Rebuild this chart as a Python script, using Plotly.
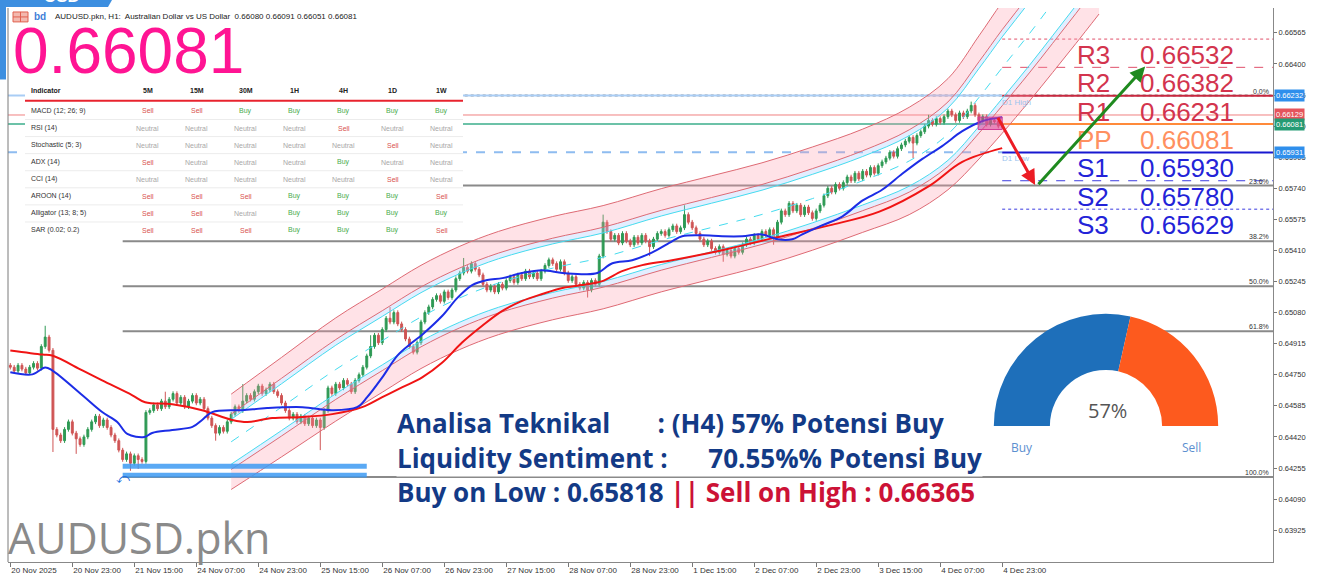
import plotly.graph_objects as go

# ---------------- data ----------------
tick_labels = ["20 Nov 2025", "20 Nov 23:00", "21 Nov 15:00", "24 Nov 07:00", "24 Nov 23:00",
               "25 Nov 15:00", "26 Nov 07:00", "26 Nov 23:00", "27 Nov 15:00", "28 Nov 07:00",
               "28 Nov 23:00", "1 Dec 15:00", "2 Dec 07:00", "2 Dec 23:00", "3 Dec 15:00",
               "4 Dec 07:00", "4 Dec 23:00"]
tick_bars = [0, 16, 32, 48, 64, 80, 96, 112, 128, 144, 160, 176, 192, 208, 224, 240, 256]

y_ticks = [0.66565, 0.66400, 0.66235, 0.66070, 0.65905, 0.65740, 0.65575, 0.65410, 0.65245,
           0.65080, 0.64915, 0.64750, 0.64585, 0.64420, 0.64255, 0.64090, 0.63925]

# H1 closes in points (0.xxxxx * 1e5)
first_open = 64800
close_pts = [
    64790, 64770, 64800, 64780, 64760, 64790, 64810, 64785,
    64900, 64950, 64880, 64460,
    64430, 64400, 64460, 64500, 64440, 64410, 64380, 64420, 64460, 64500, 64530, 64480, 64510, 64470,
    64430, 64400, 64350, 64300, 64330, 64280, 64320, 64300, 64290,
    64550,
    64560, 64590, 64570, 64610, 64580, 64620, 64650, 64600, 64630, 64580, 64610, 64640, 64600, 64620, 64570,
    64520, 64480, 64440, 64470, 64450, 64500,
    64540, 64580, 64560, 64610, 64640, 64620, 64660, 64690, 64650, 64670, 64700, 64660, 64640, 64600,
    64560, 64520, 64540, 64500, 64530, 64490, 64520, 64480, 64510, 64470,
    64560, 64680, 64650, 64700, 64680, 64720,
    64700, 64660, 64720, 64750, 64790,
    64850, 64900, 64960, 64920,
    64990, 65050, 65030, 65080, 65020, 64990,
    64940, 64900, 64870, 64920,
    65030, 65080, 65110,
    65150, 65170, 65140, 65190, 65160, 65200,
    65260, 65290, 65320, 65300, 65340, 65310, 65280,
    65230, 65200, 65220, 65190, 65230, 65210,
    65250, 65270, 65240, 65280, 65260, 65300, 65270, 65290, 65260, 65300,
    65330, 65360, 65340, 65310, 65350,
    65290, 65250, 65270, 65230,
    65210, 65240, 65200, 65250, 65230,
    65380, 65560,
    65510, 65470, 65490, 65450, 65500, 65460, 65440, 65480, 65450, 65490, 65460, 65430, 65470, 65500,
    65510, 65490, 65520, 65540, 65510, 65530,
    65600, 65560,
    65530, 65500, 65470, 65440, 65460, 65420,
    65400, 65430, 65390, 65410, 65380, 65420, 65400, 65440,
    65470, 65450, 65490, 65470, 65510, 65490, 65520,
    65480, 65560, 65620, 65600, 65660,
    65620, 65650, 65600, 65640, 65610, 65580, 65620, 65650,
    65700, 65740, 65720, 65760, 65740,
    65770, 65800, 65780, 65820, 65790, 65830, 65810, 65850, 65820, 65860, 65880,
    65900, 65930, 65910, 65950, 65970,
    65990, 66010, 65980, 66020, 66040,
    66070, 66100, 66080, 66110, 66090,
    66120, 66150, 66130, 66100, 66140, 66120,
    66150, 66180, 66130,
    66100, 66120, 66080, 66100, 66095, 66070, 66081,
]
# notable wick extremes (points)
high_pts = {9: 65010, 40: 64660, 60: 64700, 93: 64960, 98: 65110, 117: 65370, 153: 65600,
            174: 65650, 237: 66130, 248: 66200}
low_pts = {11: 64340, 17: 64330, 31: 64240, 33: 64250, 53: 64400, 80: 64350, 149: 65160,
           165: 65380, 184: 65350, 197: 65440, 233: 65900}
wick_pts = 12

# moving averages (bar index, points)
blue_bar = [0, 5.7, 9, 10.8, 18.6, 23.7, 27.6, 30.2, 34.6, 36.6, 41.8, 47, 49.5, 52.1, 59.9, 66.3,
            75.4, 83.1, 89.5, 92.1, 96, 99.9, 103.7, 106.3, 111.5, 115.4, 119.2, 123.1, 127, 132,
            137.3, 142.5, 147.6, 151.5, 155.4, 160.5, 165.7, 170.8, 173.4, 178.6, 183.7, 188.9,
            194, 198, 201.8, 204.4, 209.5, 214.7, 219.9, 225, 230.2, 235.4, 240.5, 245.7, 250.8, 256]
blue_pts = [64763, 64752, 64789, 64773, 64641, 64552, 64499, 64436, 64420, 64441, 64457, 64473,
            64510, 64552, 64562, 64573, 64578, 64562, 64578, 64631, 64736, 64852, 64921, 64963,
            65063, 65158, 65226, 65253, 65263, 65290, 65305, 65290, 65284, 65290, 65342, 65358,
            65400, 65458, 65485, 65490, 65485, 65485, 65495, 65469, 65469, 65495, 65543, 65590,
            65674, 65732, 65817, 65896, 65964, 66043, 66096, 66117]
red_bar = [0, 8.3, 10.8, 18.6, 23.7, 31.5, 34.8, 41.8, 49.5, 57.3, 61.2, 67.6, 75.4, 83.1, 90.8,
           96, 101.2, 106.3, 111.5, 116.6, 121.8, 127, 132.1, 137.3, 142.5, 147.6, 152.8, 157.9,
           163.1, 170.8, 183.7, 196.6, 211.4, 224.3, 237.2, 245.7, 256]
red_pts = [64879, 64857, 64852, 64773, 64720, 64641, 64604, 64594, 64562, 64510, 64499, 64520,
           64526, 64541, 64578, 64631, 64684, 64736, 64815, 64921, 65010, 65089, 65142, 65179,
           65211, 65226, 65247, 65300, 65332, 65358, 65411, 65474, 65543, 65616, 65753, 65880,
           65953]

# regression channel: mid line and outer half width (points)
chan_bar = [57, 70, 84, 96, 106, 116, 126, 140, 153, 168, 181, 194, 207, 220, 232, 242, 250,
            256, 263, 269, 275, 281]
chan_mid = [64394, 64578, 64778, 64931, 65057, 65158, 65237, 65316, 65374, 65464, 65532, 65601,
            65685, 65780, 65885, 66027, 66222, 66380, 66560, 66723, 66887, 67055]
chan_hw = [253, 264, 274, 274, 274, 274, 274, 274, 274, 274, 274, 274, 274, 274, 285, 295, 327,
           348, 358, 369, 379, 390]

pivot_names = ["R3", "R2", "R1", "PP", "S1", "S2", "S3"]
pivot_vals = [0.66532, 0.66382, 0.66231, 0.66081, 0.65930, 0.65780, 0.65629]

fib_high, fib_low = 0.66232, 0.64207
fib_levels = [0.0, 23.6, 38.2, 50.0, 61.8, 100.0]

d1_high, d1_low = 0.66232, 0.65931
ask_price, bid_price = 0.66129, 0.66081
axis_marks = [(0.66232, "#2f8fec"), (0.66129, "#e5545c"), (0.66081, "#259b74"), (0.65931, "#2f8fec")]

liq_zones = [(0.64278, 0.64251), (0.64230, 0.64204)]
liq_bars = (29, 92)

arrow_red = ((254.7, 0.66122), (264.5, 0.65758))
arrow_green = ((265.0, 0.65753), (292.9, 0.66386))

buy_pct = 57

indicators = ["MACD (12; 26; 9)", "RSI (14)", "Stochastic (5; 3)", "ADX (14)", "CCI (14)",
              "AROON (14)", "Alligator (13; 8; 5)", "SAR (0.02; 0.2)"]
timeframes = ["5M", "15M", "30M", "1H", "4H", "1D", "1W"]
signals = [
    ["Sell", "Sell", "Buy", "Buy", "Buy", "Buy", "Buy"],
    ["Neutral", "Neutral", "Neutral", "Neutral", "Sell", "Neutral", "Neutral"],
    ["Neutral", "Neutral", "Neutral", "Neutral", "Neutral", "Sell", "Neutral"],
    ["Sell", "Neutral", "Neutral", "Neutral", "Buy", "Neutral", "Neutral"],
    ["Neutral", "Neutral", "Neutral", "Neutral", "Neutral", "Sell", "Neutral"],
    ["Sell", "Sell", "Sell", "Buy", "Buy", "Buy", "Sell"],
    ["Sell", "Sell", "Neutral", "Buy", "Buy", "Buy", "Buy"],
    ["Sell", "Sell", "Sell", "Buy", "Buy", "Buy", "Sell"],
]

# ---------------- layout helpers ----------------
W, H = 1320, 583
X0, X1, Y0, Y1 = 8, 1273, 8, 566
XR = [-0.6, 325.9]
YR = [0.63756, 0.66697]


def px(x):
    return (x - X0) / (X1 - X0)


def py(y):
    return (Y1 - y) / (Y1 - Y0)


FONT = "Liberation Sans"


def note(x, y, text, size, color, family=FONT, xa="center", ya="middle", **kw):
    d = dict(xref="paper", yref="paper", x=px(x), y=py(y), text=text, xanchor=xa, yanchor=ya,
             showarrow=False, font=dict(family=family, size=size, color=color))
    d.update(kw)
    return d


# ---------------- candles ----------------
n = len(close_pts)
bars = list(range(n))
opens = [first_open] + close_pts[:-1]
highs, lows = [], []
for i in range(n):
    o, c = opens[i], close_pts[i]
    hi = max(o, c) + wick_pts
    lo = min(o, c) - wick_pts
    if i in high_pts:
        hi = max(hi, high_pts[i])
    if i in low_pts:
        lo = min(lo, low_pts[i])
    highs.append(hi / 1e5)
    lows.append(lo / 1e5)
o_p = [v / 1e5 for v in opens]
c_p = [v / 1e5 for v in close_pts]

fig = go.Figure()

# ---------------- channel ----------------
def chan_line(k):
    return [(m + k * h) / 1e5 for m, h in zip(chan_mid, chan_hw)]

RED_L = "#de6a74"
CYAN_L = "#45dcef"
PINK_F = "rgba(255,150,170,0.28)"
LAV_F = "rgba(175,205,255,0.35)"
spec = [
    (1.0, RED_L, None, "solid"),
    (0.58, RED_L, PINK_F, "solid"),
    (0.47, CYAN_L, LAV_F, "solid"),
    (0.0, CYAN_L, None, "dash"),
    (-0.47, CYAN_L, None, "solid"),
    (-0.58, RED_L, LAV_F, "solid"),
    (-1.0, RED_L, PINK_F, "solid"),
]
for k, col, fillc, dash in spec:
    fig.add_trace(go.Scatter(
        x=chan_bar, y=chan_line(k), mode="lines",
        line=dict(color=col, width=1, shape="spline", dash=dash),
        fill="tonexty" if fillc else None, fillcolor=fillc,
        hoverinfo="skip", showlegend=False))

fig.add_trace(go.Candlestick(
    x=bars, open=o_p, high=highs, low=lows, close=c_p,
    increasing=dict(line=dict(color="#2f9a55", width=1), fillcolor="#2f9a55"),
    decreasing=dict(line=dict(color="#cf5555", width=1), fillcolor="#cf5555"),
    whiskerwidth=0, showlegend=False, hoverinfo="skip"))

fig.add_trace(go.Scatter(x=red_bar, y=[v / 1e5 for v in red_pts], mode="lines",
                         line=dict(color="#f01414", width=2, shape="spline"),
                         hoverinfo="skip", showlegend=False))
fig.add_trace(go.Scatter(x=blue_bar, y=[v / 1e5 for v in blue_pts], mode="lines",
                         line=dict(color="#1c2de6", width=2, shape="spline"),
                         hoverinfo="skip", showlegend=False))

# ---------------- gauge ----------------
gx0, gx1 = px(993), px(1219)
gy0, gy1 = py(542), py(316)
fig.add_trace(go.Pie(
    values=[buy_pct, 100 - buy_pct, 100], labels=["Buy", "Sell", ""],
    marker=dict(colors=["#1e6fba", "#fd5a1e", "rgba(0,0,0,0)"], line=dict(width=0)),
    hole=0.5, rotation=-90, direction="clockwise", sort=False, textinfo="none",
    hoverinfo="skip", showlegend=False, automargin=False,
    domain=dict(x=[gx0, gx1], y=[gy0, gy1])))

shapes = []
ann = []

# left frame line
shapes.append(dict(type="line", xref="paper", yref="paper", x0=0, x1=0, y0=0, y1=1,
                   line=dict(color="#7a7a7a", width=1)))

# fibonacci lines
for lv in fib_levels:
    yv = fib_high - lv / 100 * (fib_high - fib_low)
    shapes.append(dict(type="line", xref="x", yref="y", x0=29, x1=XR[1], y0=yv, y1=yv,
                       line=dict(color="#8a8a8a", width=2, dash="dot" if lv == 0 else "solid"),
                       layer="below"))
    ann.append(dict(xref="paper", yref="y", x=px(1270), y=yv, text=f"{lv:.1f}%",
                    xanchor="right", yanchor="bottom", showarrow=False, borderpad=0,
                    font=dict(family=FONT, size=7, color="#333")))

# D1 high/low, bid/ask lines across the chart
shapes.append(dict(type="line", xref="x", yref="y", x0=XR[0], x1=256, y0=d1_high, y1=d1_high,
                   line=dict(color="#a9cdf5", width=2), layer="below"))
shapes.append(dict(type="line", xref="x", yref="y", x0=XR[0], x1=256, y0=d1_low, y1=d1_low,
                   line=dict(color="#8ebcf0", width=2, dash="dash"), layer="below"))
shapes.append(dict(type="line", xref="x", yref="y", x0=XR[0], x1=XR[1], y0=ask_price, y1=ask_price,
                   line=dict(color="#f08080", width=1), layer="below"))
shapes.append(dict(type="line", xref="x", yref="y", x0=XR[0], x1=256, y0=bid_price, y1=bid_price,
                   line=dict(color="#6cc2a8", width=2), layer="below"))

# pivot lines
piv_style = {
    "R3": ("#e0506a", 1, "dot"), "R2": ("#e0506a", 1, "dash"), "R1": ("#c8283f", 2, "solid"),
    "PP": ("#ff8a3a", 2, "solid"), "S1": ("#1818d0", 2, "solid"), "S2": ("#3b3be0", 1, "dash"),
    "S3": ("#3b3be0", 1, "dot"),
}
piv_text_col = {"R": "#d3344e", "P": "#ff9060", "S": "#2323d8"}
for name, val in zip(pivot_names, pivot_vals):
    col, wdt, dsh = piv_style[name]
    shapes.append(dict(type="line", xref="x", yref="y", x0=256, x1=XR[1], y0=val, y1=val,
                       line=dict(color=col, width=wdt, dash=dsh), layer="below"))
    tc = piv_text_col[name[0]]
    ann.append(dict(xref="paper", yref="y", x=px(1076), y=val, text=name, xanchor="left",
                    yanchor="top", showarrow=False, borderpad=0,
                    font=dict(family=FONT, size=26, color=tc)))
    ann.append(dict(xref="paper", yref="y", x=px(1139), y=val, text=f"{val:.5f}", xanchor="left",
                    yanchor="top", showarrow=False, borderpad=0,
                    font=dict(family=FONT, size=26, color=tc)))

ann.append(note(1000, 103, "D1 High", 8, "#9cc4ee", xa="left"))
ann.append(note(1000, 160, "D1 Low", 8, "#9cc4ee", xa="left"))

# liquidity zone
for top, bot in liq_zones:
    shapes.append(dict(type="rect", xref="x", yref="y", x0=liq_bars[0], x1=liq_bars[1], y0=bot, y1=top,
                       fillcolor="#3d9af2", line=dict(width=0), opacity=0.85))
ann.append(dict(xref="x", yref="y", x=liq_bars[0], y=liq_zones[1][1], text="⤺", showarrow=False,
                xanchor="center", yanchor="middle", font=dict(size=13, color="#1f6fe0")))

# sell marker box near last candles
shapes.append(dict(type="rect", xref="x", yref="y", x0=249.8, x1=256, y0=0.66052, y1=0.66118,
                   fillcolor="rgba(215,60,150,0.55)", line=dict(color="#d23c96", width=1)))

# arrows
for (tail, head), col in ((arrow_red, "#ec1c24"), (arrow_green, "#1f8a1f")):
    ann.append(dict(x=head[0], y=head[1], ax=tail[0], ay=tail[1], xref="x", yref="y",
                    axref="x", ayref="y", showarrow=True, arrowhead=2, arrowsize=1,
                    arrowwidth=3, arrowcolor=col, text=""))

# axis value boxes
for val, col in axis_marks:
    ann.append(dict(xref="paper", yref="y", x=1.0, y=val, xshift=1, text=f"{val:.5f}",
                    xanchor="left", yanchor="middle", showarrow=False, bgcolor=col, borderpad=1,
                    font=dict(family=FONT, size=7.5, color="white")))

# ---------------- indicator table ----------------
TL, TR, TT, TB = 25, 463, 82, 240
shapes.append(dict(type="rect", xref="paper", yref="paper", x0=px(TL), x1=px(TR), y0=py(TB), y1=py(TT),
                   fillcolor="white", line=dict(width=0), layer="above"))
shapes.append(dict(type="line", xref="paper", yref="paper", x0=px(TL), x1=px(TR), y0=py(101.5), y1=py(101.5),
                   line=dict(color="#e8232e", width=2), layer="above"))
for r in range(7):
    ys = 120.3 + 17.2 * r
    shapes.append(dict(type="line", xref="paper", yref="paper", x0=px(TL), x1=px(TR), y0=py(ys), y1=py(ys),
                       line=dict(color="#ececec", width=1), layer="above"))
ann.append(note(29, 91, "<b>Indicator</b>", 7, "#222", xa="left"))
for j, tf in enumerate(timeframes):
    ann.append(note(147.7 + 49 * j, 91, f"<b>{tf}</b>", 7, "#222"))
sig_col = {"Buy": "#49ab4f", "Sell": "#d9534f", "Neutral": "#a8a8a8"}
for r, (name, row) in enumerate(zip(indicators, signals)):
    yc = 111.7 + 17.2 * r
    ann.append(note(29, yc, name, 7, "#333", xa="left"))
    for j, s in enumerate(row):
        ann.append(note(147.7 + 49 * j, yc, s, 7, sig_col[s]))

# ---------------- header: tab, icons, title, price ----------------
shapes.append(dict(type="rect", xref="paper", yref="paper", x0=px(0), x1=px(6), y0=py(80), y1=py(0),
                   fillcolor="#3d8fe0", line=dict(width=0), layer="above"))
shapes.append(dict(type="path", xref="paper", yref="paper",
                   path=f"M {px(0)},{py(0)} L {px(112)},{py(0)} L {px(108)},{py(7)} L {px(0)},{py(7)} Z",
                   fillcolor="#3d8fe0", line=dict(width=0), layer="above"))
ann.append(note(62, 7, "<b>USD</b>", 17, "white", ya="bottom", borderpad=0))
# small toolbar icons
shapes.append(dict(type="rect", xref="paper", yref="paper", x0=px(13), x1=px(28), y0=py(22), y1=py(12),
                   fillcolor="#f3b8ae", line=dict(color="#e0604e", width=1), layer="above"))
shapes.append(dict(type="line", xref="paper", yref="paper", x0=px(20.5), x1=px(20.5), y0=py(22), y1=py(12),
                   line=dict(color="#e0604e", width=1), layer="above"))
shapes.append(dict(type="line", xref="paper", yref="paper", x0=px(13), x1=px(28), y0=py(17), y1=py(17),
                   line=dict(color="#e0604e", width=1), layer="above"))
ann.append(note(40, 17, "<b>bd</b>", 10, "#3f7fd8"))
ann.append(note(53, 17, "AUDUSD.pkn, H1:  Australian Dollar vs US Dollar  0.66080 0.66091 0.66051 0.66081",
                8, "#222", xa="left"))
ann.append(note(12, 51, "0.66081", 64, "#ff1493", xa="left", borderpad=0))

# ---------------- gauge texts ----------------
ann.append(note(1107, 413, "57%", 20, "#555", family="Open Sans"))
ann.append(note(1022, 451, "Buy", 12, "#5c8fd0", family="Open Sans"))
ann.append(note(1191, 451, "Sell", 12, "#5c8fd0", family="Open Sans"))

# ---------------- analysis text ----------------
NB = "\u00a0"
NAVY = "#133a86"
lines = [
    ("Analisa Teknikal" + NB * 7 + ": (H4) 57% Potensi Buy", 426, "white"),
    ("Liquidity Sentiment :" + NB * 6 + "70.55%% Potensi Buy", 461, "white"),
    ("Buy on Low : 0.65818 <span style='color:#cc1236'>|| Sell on High : 0.66365</span>", 495, None),
]
for txt, yc, bg in lines:
    d = note(396, yc, f"<b>{txt}</b>", 26, NAVY, family="Open Sans", xa="left", borderpad=0)
    if bg:
        d["bgcolor"] = bg
    ann.append(d)

ann.append(note(6, 541, "AUDUSD.pkn", 43, "#8a8a8a", family="Open Sans", xa="left"))

fig.update_layout(
    width=W, height=H,
    margin=dict(l=X0, r=W - X1, t=Y0, b=H - Y1),
    paper_bgcolor="white", plot_bgcolor="white",
    showlegend=False,
    xaxis=dict(range=XR, tickvals=tick_bars, ticktext=tick_labels, ticks="outside", ticklen=4,
               tickcolor="#777", showline=True, linecolor="#888", showgrid=False, zeroline=False,
               tickfont=dict(family=FONT, size=8, color="#333"), ticklabelposition="outside right",
               rangeslider=dict(visible=False), fixedrange=True),
    yaxis=dict(range=YR, side="right", tickvals=y_ticks, ticktext=[f"{v:.5f}" for v in y_ticks],
               ticks="outside", ticklen=3, tickcolor="#777", showline=True, linecolor="#888",
               showgrid=False, zeroline=False, tickfont=dict(family=FONT, size=7.5, color="#333"),
               fixedrange=True),
    shapes=shapes, annotations=ann,
)

fig.write_html("out.html", config={"displayModeBar": False},
               post_script="document.body.style.margin='0';document.body.style.overflow='hidden';")
